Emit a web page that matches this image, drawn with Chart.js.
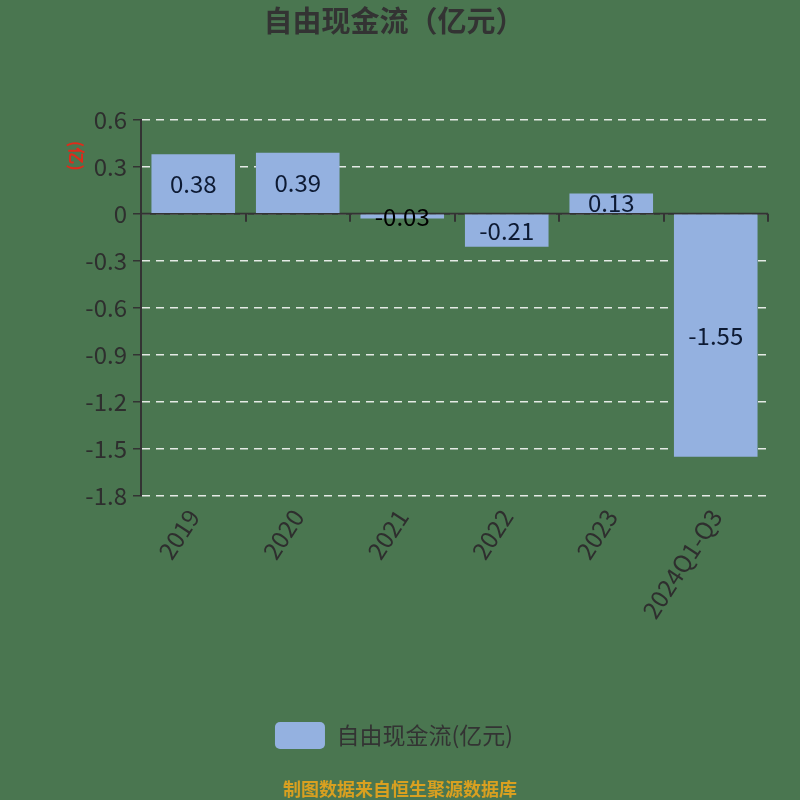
<!DOCTYPE html>
<html>
<head>
<meta charset="utf-8">
<script src="https://cdn.jsdelivr.net/npm/chart.js@4/dist/chart.umd.min.js"></script>
<style>
html, body { margin: 0; padding: 0; background: #4a7650; }
#wrap { width: 800px; height: 800px; position: relative; }
</style>
</head>
<body>
<div id="wrap"><canvas id="c" width="800" height="800"></canvas></div>
<script>
const categories = ["2019", "2020", "2021", "2022", "2023", "2024Q1-Q3"];
const cashFlow = [0.38, 0.39, -0.03, -0.21, 0.13, -1.55];
const yTicks = [0.6, 0.3, 0, -0.3, -0.6, -0.9, -1.2, -1.5, -1.8];

const FONT = '"Noto Sans CJK SC", "Noto Sans", sans-serif';

// value labels in the middle of each bar
const barLabels = {
    id: "barLabels",
    afterDatasetsDraw(chart) {
        const ctx = chart.ctx;
        const meta = chart.getDatasetMeta(0);
        ctx.save();
        ctx.font = "24px " + FONT;
        ctx.textAlign = "center";
        ctx.textBaseline = "middle";
        meta.data.forEach((bar, i) => {
            const v = cashFlow[i];
            const mid = (bar.y + bar.base) / 2;
            ctx.fillStyle = Math.abs(v) < 0.05 ? "#000" : "#0d1a33";
            ctx.fillText(v.toFixed(2), bar.x, mid);
        });
        ctx.restore();
    }
};

// dark axis line at zero with ticks between categories
const zeroAxis = {
    id: "zeroAxis",
    beforeDatasetsDraw(chart) {
        const ctx = chart.ctx;
        const x = chart.scales.x, y = chart.scales.y;
        const y0 = y.getPixelForValue(0);
        const step = (x.right - x.left) / categories.length;
        ctx.save();
        ctx.strokeStyle = "#333";
        ctx.lineWidth = 2;
        ctx.beginPath();
        ctx.moveTo(x.left, y0);
        ctx.lineTo(x.right, y0);
        for (let i = 0; i <= categories.length; i++) {
            const px = Math.round(x.left + i * step);
            ctx.moveTo(px, y0);
            ctx.lineTo(px, y0 + 8);
        }
        ctx.stroke();
        ctx.restore();
    }
};

// extra texts: unit label and data source line
const extras = {
    id: "extras",
    afterDraw(chart) {
        const ctx = chart.ctx;
        const area = chart.chartArea;
        ctx.save();
        ctx.translate(76, area.top + 36);
        ctx.rotate(Math.PI / 2);
        ctx.fillStyle = "#e02a1a";
        ctx.font = "bold 17px " + FONT;
        ctx.textAlign = "center";
        ctx.textBaseline = "middle";
        ctx.fillText("(亿)", 0, 0);
        ctx.restore();

        ctx.save();
        ctx.fillStyle = "#d9a020";
        ctx.font = "bold 18px " + FONT;
        ctx.textAlign = "center";
        ctx.textBaseline = "middle";
        ctx.fillText("制图数据来自恒生聚源数据库", 400, 789);
        ctx.restore();
    }
};

new Chart(document.getElementById("c"), {
    type: "bar",
    data: {
        labels: categories,
        datasets: [{
            label: "自由现金流(亿元)",
            data: cashFlow,
            backgroundColor: "#94b1e0",
            borderWidth: 0,
            barPercentage: 0.8,
            categoryPercentage: 1.0
        }]
    },
    options: {
        responsive: false,
        animation: false,
        layout: { padding: { left: 20, right: 32, top: 0, bottom: 41 } },
        plugins: {
            title: {
                display: true,
                text: "自由现金流（亿元）",
                color: "#333",
                font: { family: FONT, size: 29, weight: "bold" },
                padding: { top: 4, bottom: 81 }
            },
            legend: {
                position: "bottom",
                labels: {
                    color: "#333",
                    font: { family: FONT, size: 23 },
                    boxWidth: 50,
                    boxHeight: 27,
                    padding: 10,
                    useBorderRadius: true,
                    borderRadius: 5
                }
            },
            tooltip: { enabled: false }
        },
        scales: {
            x: {
                grid: { display: false },
                border: { display: false },
                ticks: {
                    color: "#2e2e2e",
                    font: { family: FONT, size: 24 },
                    maxRotation: 57,
                    minRotation: 57,
                    padding: 0
                },
                afterFit(scale) { scale.height = 216; }
            },
            y: {
                min: -1.8,
                max: 0.6,
                afterBuildTicks(scale) {
                    scale.ticks = yTicks.map(v => ({ value: v }));
                },
                grid: {
                    color: "rgba(255,255,255,0.85)",
                    lineWidth: 1.5,
                    tickLength: 8,
                    tickColor: "#333",
                    drawTicks: true
                },
                border: { color: "#333", width: 2, dash: [8, 6] },
                ticks: {
                    color: "#2e2e2e",
                    font: { family: FONT, size: 24 },
                    padding: 6,
                    callback(v) { return String(Math.round(v * 10) / 10); }
                },
                afterFit(scale) { scale.width = 121; }
            }
        }
    },
    plugins: [zeroAxis, barLabels, extras]
});
</script>
</body>
</html>
